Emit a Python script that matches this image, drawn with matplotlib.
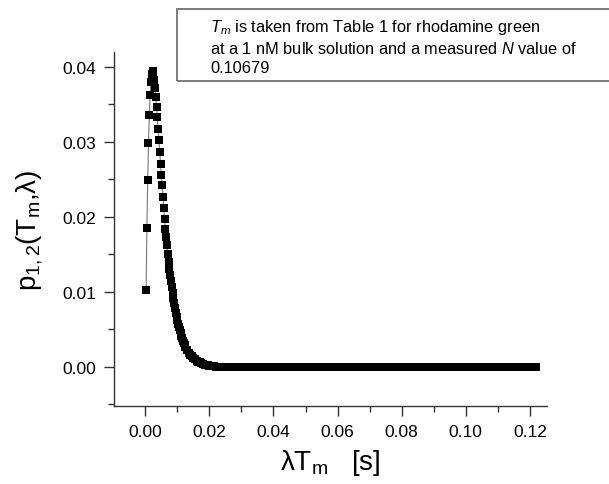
import matplotlib
matplotlib.use("Agg")
import matplotlib.pyplot as plt
from matplotlib.ticker import MultipleLocator

plt.rcParams['font.family'] = ['Liberation Sans', 'DejaVu Sans']
plt.rcParams['mathtext.fontset'] = 'custom'
plt.rcParams['mathtext.rm'] = 'Liberation Sans'
plt.rcParams['mathtext.it'] = 'Liberation Sans:italic'

# rising / peak / falling part
x_peak = [0.00025, 0.0005, 0.00075, 0.001, 0.00125, 0.0015, 0.00175, 0.002,
          0.00225, 0.0025, 0.00275, 0.003, 0.00325, 0.0035, 0.00375, 0.004,
          0.00425, 0.0045, 0.00475, 0.005, 0.00525, 0.0055, 0.00575, 0.006,
          0.00625, 0.0065, 0.00675, 0.007, 0.00725, 0.0075, 0.00775, 0.008,
          0.00825, 0.0085, 0.00875, 0.009, 0.00925, 0.0095, 0.00975, 0.010,
          0.01025, 0.0105, 0.01075, 0.011, 0.01125, 0.0115, 0.01175, 0.012,
          0.01225, 0.0125]
y_peak = [0.0103, 0.0185, 0.0249, 0.0299, 0.0336, 0.0362, 0.0380, 0.0391,
          0.0394, 0.0389, 0.0382, 0.0372, 0.0360, 0.0347, 0.0333, 0.0317,
          0.0302, 0.0286, 0.0271, 0.0256, 0.0242, 0.0226, 0.0212, 0.0197,
          0.0184, 0.0173, 0.0162, 0.0151, 0.0140, 0.0131, 0.0122, 0.0115,
          0.0107, 0.0099, 0.0092, 0.0085, 0.0079, 0.0072, 0.0067, 0.0062,
          0.0057, 0.0053, 0.0049, 0.0045, 0.0041, 0.0038, 0.0035, 0.0032,
          0.0029, 0.0027]

# decaying tail
x_decay = [0.013, 0.0135, 0.014, 0.0145, 0.015, 0.0155, 0.016, 0.0165,
           0.017, 0.0175, 0.018, 0.0185, 0.019, 0.0195, 0.020, 0.0205,
           0.021, 0.0215, 0.022]
y_decay = [0.0023, 0.0019, 0.0016, 0.0014, 0.0012, 0.0010, 0.0008, 0.0007,
           0.0006, 0.0005, 0.0004, 0.0003, 0.0002, 0.0002, 0.0001, 0.0001,
           0.0001, 0.0001, 0.0]

# flat part
x_flat = [0.023, 0.024, 0.025, 0.026, 0.027, 0.028, 0.029, 0.030, 0.031,
          0.032, 0.033, 0.034, 0.035, 0.036, 0.037, 0.038, 0.039, 0.040,
          0.041, 0.042, 0.043, 0.044, 0.045, 0.046, 0.047, 0.048, 0.049,
          0.050, 0.051, 0.052, 0.053, 0.054, 0.055, 0.056, 0.057, 0.058,
          0.059, 0.060, 0.061, 0.062, 0.063, 0.064, 0.065, 0.066, 0.067,
          0.068, 0.069, 0.070, 0.071, 0.072, 0.073, 0.074, 0.075, 0.076,
          0.077, 0.078, 0.079, 0.080, 0.081, 0.082, 0.083, 0.084, 0.085,
          0.086, 0.087, 0.088, 0.089, 0.090, 0.091, 0.092, 0.093, 0.094,
          0.095, 0.096, 0.097, 0.098, 0.099, 0.100, 0.101, 0.102, 0.103,
          0.104, 0.105, 0.106, 0.107, 0.108, 0.109, 0.110, 0.111, 0.112,
          0.113, 0.114, 0.115, 0.116, 0.117, 0.118, 0.119, 0.120, 0.121,
          0.122]
y_flat = [0.0] * len(x_flat)

x = x_peak + x_decay + x_flat
y = y_peak + y_decay + y_flat

fig = plt.figure(figsize=(6.09, 4.85), dpi=100)
ax = fig.add_axes([0.187, 0.161, 0.711, 0.730])

ax.plot(x, y, '-', color='#777777', lw=0.8, zorder=1)
ax.plot(x, y, 's', color='black', ms=5.2, mec='black', mew=0, zorder=2)

ax.set_xlim(-0.0098, 0.1253)
ax.set_ylim(-0.0052, 0.0420)
ax.xaxis.set_major_locator(MultipleLocator(0.02))
ax.xaxis.set_minor_locator(MultipleLocator(0.01))
ax.yaxis.set_major_locator(MultipleLocator(0.01))
ax.yaxis.set_minor_locator(MultipleLocator(0.005))
ax.xaxis.set_major_formatter(plt.FormatStrFormatter('%.2f'))
ax.yaxis.set_major_formatter(plt.FormatStrFormatter('%.2f'))

for s in ['top', 'right']:
    ax.spines[s].set_visible(False)
for s in ['left', 'bottom']:
    ax.spines[s].set_color('#333333')
    ax.spines[s].set_linewidth(1.0)

ax.tick_params(which='major', direction='out', length=7, width=1,
               color='#333333', labelsize=12.5, pad=6)
ax.tick_params(which='minor', direction='out', length=4, width=1,
               color='#333333')

ax.set_xlabel('λT$_\\mathrm{m}$   [s]', fontsize=20, labelpad=6)
ax.set_ylabel('p$_\\mathrm{1,2}$(T$_\\mathrm{m}$,λ)', fontsize=20,
              labelpad=12)

note = ('$T_m$ is taken from Table 1 for rhodamine green\n'
        'at a 1 nM bulk solution and a measured $N$ value of\n'
        '0.10679')
fig.text(0.345, 0.962, note, fontsize=11.8, va='top', ha='left',
         linespacing=1.3, transform=fig.transFigure)
box = plt.Rectangle((176.5 / 609, 1 - 81.5 / 485), 0.75, (81.5 - 9.5) / 485,
                    transform=fig.transFigure, fill=False, ec='#666666',
                    lw=1.2)
fig.add_artist(box)

fig.savefig('out.png', dpi=100)
